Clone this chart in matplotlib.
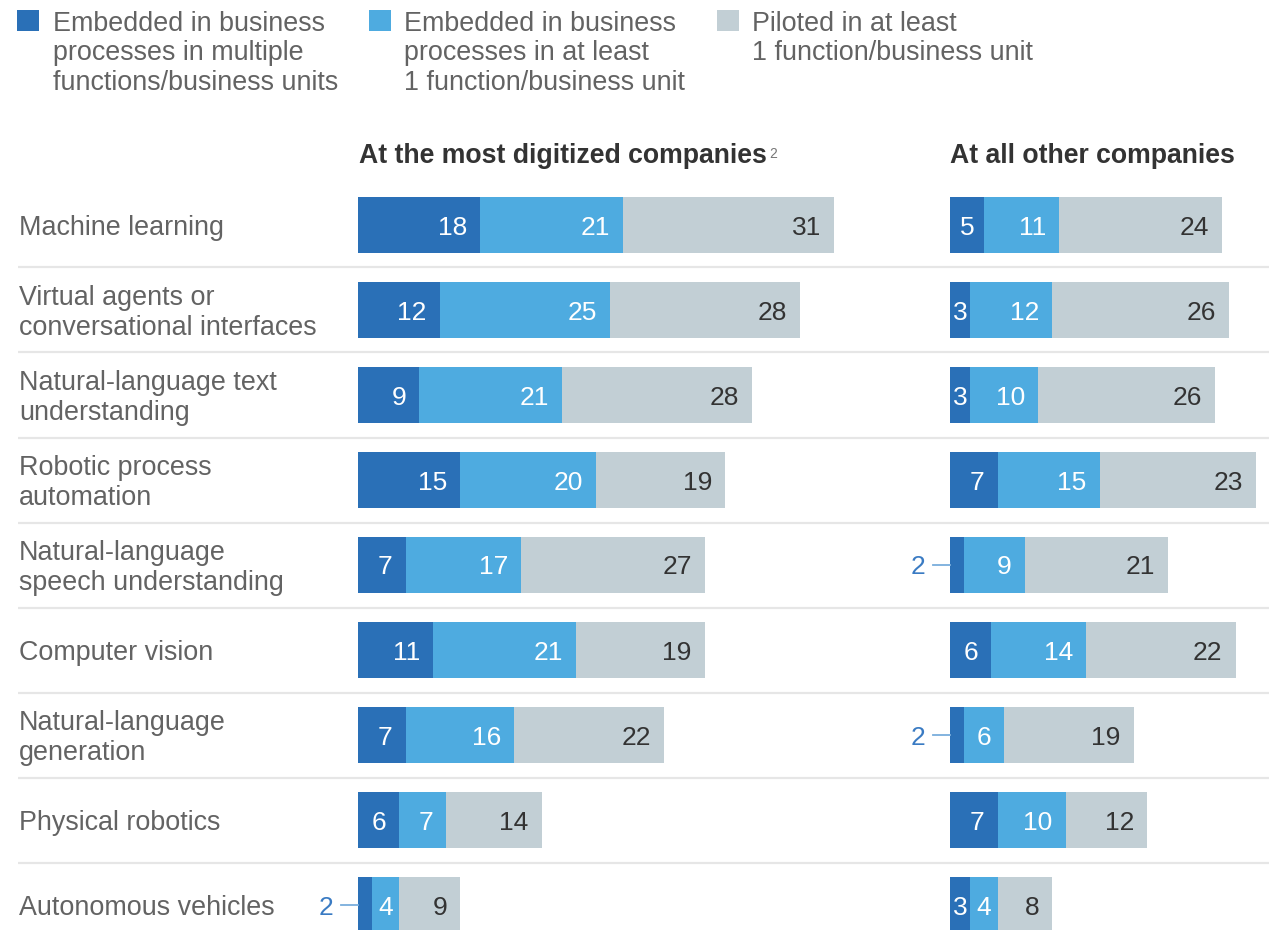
import matplotlib
matplotlib.use("Agg")
import matplotlib.pyplot as plt
from matplotlib.patches import Rectangle

# ---------------- data ----------------
categories = [
    "Machine learning",
    "Virtual agents or\nconversational interfaces",
    "Natural-language text\nunderstanding",
    "Robotic process\nautomation",
    "Natural-language\nspeech understanding",
    "Computer vision",
    "Natural-language\ngeneration",
    "Physical robotics",
    "Autonomous vehicles",
]
series_names = [
    "Embedded in business\nprocesses in multiple\nfunctions/business units",
    "Embedded in business\nprocesses in at least\n1 function/business unit",
    "Piloted in at least\n1 function/business unit",
]
panel_titles = ["At the most digitized companies", "At all other companies"]

digitized_multiple = [18, 12, 9, 15, 7, 11, 7, 6, 2]
digitized_one = [21, 25, 21, 20, 17, 21, 16, 7, 4]
digitized_piloted = [31, 28, 28, 19, 27, 19, 22, 14, 9]

other_multiple = [5, 3, 3, 7, 2, 6, 2, 7, 3]
other_one = [11, 12, 10, 15, 9, 14, 6, 10, 4]
other_piloted = [24, 26, 26, 23, 21, 22, 19, 12, 8]

# ---------------- style ----------------
FONT = "Liberation Sans"
plt.rcParams["font.family"] = [FONT, "DejaVu Sans"]
C_DARK = "#2a70b7"
C_LIGHT = "#4eabe0"
C_GRAY = "#c2cfd5"
TXT_GRAY = "#636363"
TXT_DARK = "#333333"
C_SMALL = "#3a7bc3"
C_LEADER = "#7aaedc"
SEP = "#e6e6e6"
FS = 19.4
FS_NUM = 19

W, H = 1269, 930
PX_PER_UNIT = 6.8
ROW0 = 225.0
PITCH = 85.0
BAR_H = 56.0 / PITCH

fig = plt.figure(figsize=(W / 100, H / 100), dpi=100)
fig.patch.set_facecolor("white")

# background axes in pixel coordinates
bg = fig.add_axes([0, 0, 1, 1], zorder=0)
bg.set_xlim(0, W)
bg.set_ylim(H, 0)
bg.axis("off")

# legend
leg_sq_x = [17, 369, 717]
leg_tx_x = [53, 404, 752]
colors = [C_DARK, C_LIGHT, C_GRAY]
for sx, tx, name, col in zip(leg_sq_x, leg_tx_x, series_names, colors):
    bg.add_patch(Rectangle((sx, 10), 22, 21, facecolor=col, edgecolor="none"))
    for k, line in enumerate(name.split("\n")):
        bg.text(tx, 31 + 29.5 * k, line, fontsize=FS, color=TXT_GRAY,
                ha="left", va="baseline")

# panel titles
t1 = bg.text(359, 163, panel_titles[0], fontsize=19.2, fontweight="bold",
             color=TXT_DARK, ha="left", va="baseline")
bg.annotate("2", xy=(1, 1), xycoords=t1, xytext=(2, -3),
            textcoords="offset points", fontsize=10, color="#777777",
            ha="left", va="top")
bg.text(950, 163, panel_titles[1], fontsize=19.2, fontweight="bold",
        color=TXT_DARK, ha="left", va="baseline")

# row labels and separators
for i, cat in enumerate(categories):
    yc = ROW0 + PITCH * i
    lines = cat.split("\n")
    if len(lines) == 1:
        bg.text(19, yc + 9.5, lines[0], fontsize=FS, color=TXT_GRAY,
                ha="left", va="baseline")
    else:
        for k, line in enumerate(lines):
            bg.text(19, yc - 5.5 + 30 * k, line, fontsize=FS, color=TXT_GRAY,
                    ha="left", va="baseline")
    if i < len(categories) - 1:
        bg.plot([18, W], [yc + PITCH / 2] * 2, color=SEP, lw=1.6,
                solid_capstyle="butt")

# bar panels
top_px = ROW0 - PITCH / 2
n = len(categories)
ybottom = (H - ROW0) / PITCH


def make_panel(left_px, right_px, s1, s2, s3):
    ax = fig.add_axes([left_px / W, 0, (right_px - left_px) / W,
                       (H - top_px) / H], zorder=2)
    ax.set_xlim(0, (right_px - left_px) / PX_PER_UNIT)
    ax.set_ylim(ybottom, -0.5)
    ax.axis("off")
    ax.patch.set_alpha(0)
    ys = list(range(n))
    lefts = [0] * n
    pad = 13 / PX_PER_UNIT
    for vals, col, tcol in ((s1, C_DARK, "white"), (s2, C_LIGHT, "white"),
                            (s3, C_GRAY, TXT_DARK)):
        ax.barh(ys, vals, left=lefts, height=BAR_H, color=col, linewidth=0)
        for y, v, l in zip(ys, vals, lefts):
            yb = y + 9.5 / PITCH
            if v <= 2:
                ax.text(-25 / PX_PER_UNIT, yb, str(v), fontsize=FS_NUM,
                        color=C_SMALL, ha="right", va="baseline", clip_on=False)
                ax.plot([-17 / PX_PER_UNIT, 0], [y, y], color=C_LEADER,
                        lw=1.3, clip_on=False)
            elif v < 5.5:
                ax.text(l + v / 2, yb, str(v), fontsize=FS_NUM, color=tcol,
                        ha="center", va="baseline")
            else:
                ax.text(l + v - pad, yb, str(v), fontsize=FS_NUM, color=tcol,
                        ha="right", va="baseline")
        lefts = [a + b for a, b in zip(lefts, vals)]
    return ax


make_panel(358, 900, digitized_multiple, digitized_one, digitized_piloted)
make_panel(950, W, other_multiple, other_one, other_piloted)

fig.savefig("out.png", dpi=100, facecolor="white")
